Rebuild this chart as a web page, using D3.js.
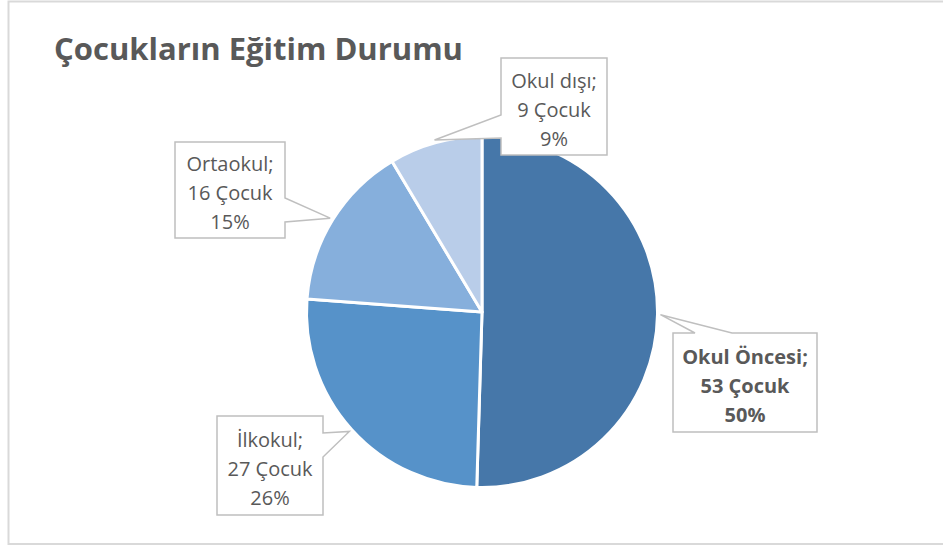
<!DOCTYPE html>
<html>
<head>
<meta charset="utf-8">
<script src="https://cdn.jsdelivr.net/npm/d3@7"></script>
<style>
  html, body { margin: 0; padding: 0; background: #fff; }
  svg { display: block; }
</style>
</head>
<body>
<svg id="chart" width="943" height="546"></svg>
<script>
// ---- Data ----
const categories = ["Okul Öncesi", "İlkokul", "Ortaokul", "Okul dışı"];
const values = [53, 27, 16, 9];
const unitLabel = "Çocuk";
const title = "Çocukların Eğitim Durumu";
const colors = ["#4677a9", "#5692c9", "#86afdc", "#b9cde9"];

// ---- Layout ----
const W = 943, H = 546;
const cx = 482, cy = 312, R = 175.5;
const FONT = "'Open Sans', 'DejaVu Sans', sans-serif";
const callouts = [
  { x: 673, y: 333, w: 144, h: 99, side: "top",   a: 695, b: 732, bold: true },
  { x: 217, y: 416, w: 106, h: 99, side: "right", a: 433, b: 457 },
  { x: 175, y: 142, w: 110, h: 96, side: "right", a: 198, b: 222 },
  { x: 501, y: 58,  w: 106, h: 97, side: "left",  a: 115, b: 138 }
];

const svg = d3.select("#chart");

// outer frame
svg.append("rect")
  .attr("x", 8.5).attr("y", 1.5)
  .attr("width", 945).attr("height", 542.5)
  .attr("fill", "#fff")
  .attr("stroke", "#d9d9d9").attr("stroke-width", 2);

// title
svg.append("text")
  .attr("x", 54).attr("y", 60)
  .attr("font-family", FONT).attr("font-weight", "bold")
  .attr("font-size", 31).attr("fill", "#595959")
  .text(title);

const total = d3.sum(values);
const data = categories.map((c, i) => ({ cat: c, value: values[i], color: colors[i] }));

const pie = d3.pie().sort(null).value(d => d.value).startAngle(0).endAngle(2 * Math.PI);
const arcs = pie(data);
const arc = d3.arc().innerRadius(0).outerRadius(R);
const tipArc = d3.arc().innerRadius(R + 3).outerRadius(R + 3);

const g = svg.append("g").attr("transform", `translate(${cx},${cy})`);
g.selectAll("path.slice")
  .data(arcs)
  .join("path")
  .attr("class", "slice")
  .attr("d", arc)
  .attr("fill", d => d.data.color)
  .attr("stroke", "#fff")
  .attr("stroke-width", 3)
  .attr("stroke-linejoin", "round");

// callouts
arcs.forEach((d, i) => {
  const c = callouts[i];
  const t = tipArc.centroid(d);
  const tx = cx + t[0], ty = cy + t[1];
  const x0 = c.x, y0 = c.y, x1 = c.x + c.w, y1 = c.y + c.h;
  let p;
  if (c.side === "top") {
    p = [[x0, y0], [c.a, y0], [tx, ty], [c.b, y0], [x1, y0], [x1, y1], [x0, y1]];
  } else if (c.side === "right") {
    p = [[x0, y0], [x1, y0], [x1, c.a], [tx, ty], [x1, c.b], [x1, y1], [x0, y1]];
  } else {
    p = [[x0, y0], [x1, y0], [x1, y1], [x0, y1], [x0, c.b], [tx, ty], [x0, c.a]];
  }
  svg.append("path")
    .attr("d", "M" + p.map(q => q.join(",")).join("L") + "Z")
    .attr("fill", "#fff")
    .attr("stroke", "#bfbfbf")
    .attr("stroke-width", 1.5)
    .attr("stroke-linejoin", "miter");

  const pct = Math.round(d.data.value / total * 100) + "%";
  const lines = [d.data.cat + ";", d.data.value + " " + unitLabel, pct];
  const tcx = c.x + c.w / 2;
  const mid = c.y + c.h / 2 + 10;
  const txt = svg.append("text")
    .attr("font-family", FONT)
    .attr("font-size", 20)
    .attr("font-weight", c.bold ? "bold" : "normal")
    .attr("fill", "#595959")
    .attr("text-anchor", "middle");
  lines.forEach((l, k) => {
    txt.append("tspan").attr("x", tcx).attr("y", mid + (k - 1) * 29).text(l);
  });
});
</script>
</body>
</html>
